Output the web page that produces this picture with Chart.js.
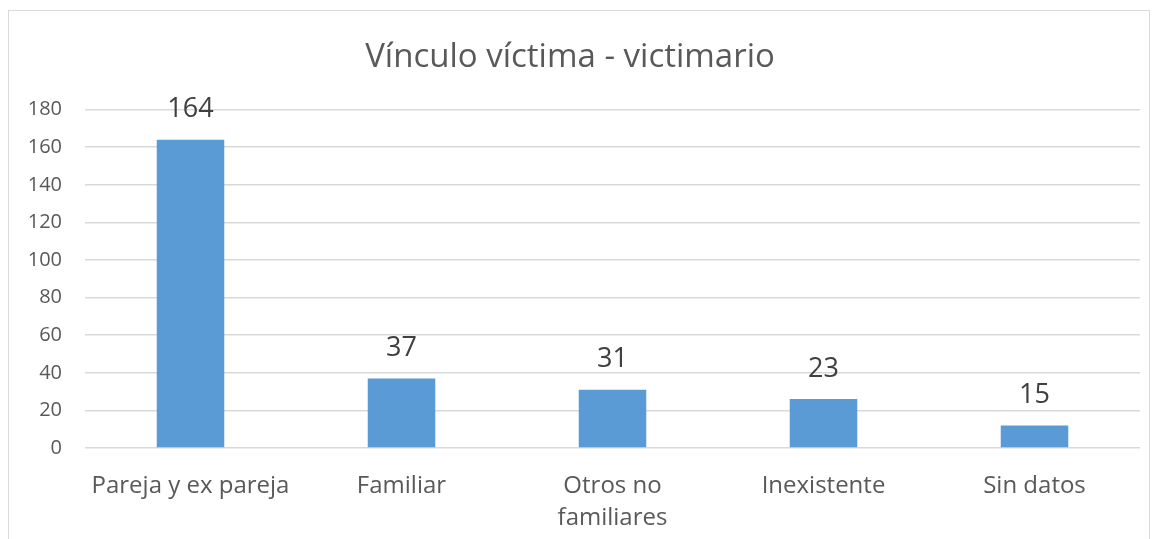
<!DOCTYPE html>
<html>
<head>
<meta charset="utf-8">
<script src="https://cdn.jsdelivr.net/npm/chart.js@4"></script>
<style>
  html, body { margin: 0; padding: 0; background: #fff; }
  #wrap { position: relative; width: 1156px; height: 539px; }
  #frame { position: absolute; left: 8px; top: 10px; width: 1140px; height: 540px; border: 1px solid #d9d9d9; pointer-events: none; }
</style>
</head>
<body>
<div id="wrap">
  <canvas id="chart" width="1156" height="539"></canvas>
  <div id="frame"></div>
</div>
<script>
// Vínculo víctima - victimario
const categorias = ['Pareja y ex pareja', 'Familiar', ['Otros no', 'familiares'], 'Inexistente', 'Sin datos'];
// altura de las barras tal como se dibujan en la imagen
const valores = [164, 37, 31, 26, 12];
// etiquetas de datos tal como aparecen escritas
const etiquetas = ['164', '37', '31', '23', '15'];
const ticksY = [0, 20, 40, 60, 80, 100, 120, 140, 160, 180];

const FONT = '"Open Sans", "Liberation Sans", sans-serif';

// etiquetas encima de cada barra
const etiquetasBarras = {
    id: 'etiquetasBarras',
    afterDatasetsDraw(chart) {
        const ctx = chart.ctx;
        const meta = chart.getDatasetMeta(0);
        ctx.save();
        ctx.font = '27px ' + FONT;
        ctx.fillStyle = '#404040';
        ctx.textAlign = 'center';
        ctx.textBaseline = 'middle';
        meta.data.forEach((bar, i) => {
            ctx.fillText(etiquetas[i], bar.x, bar.y - 30);
        });
        ctx.restore();
    }
};

new Chart(document.getElementById('chart'), {
    type: 'bar',
    data: {
        labels: categorias,
        datasets: [{
            data: valores,
            backgroundColor: '#5b9bd5',
            borderWidth: 0,
            barPercentage: 0.32,
            categoryPercentage: 1
        }]
    },
    options: {
        responsive: false,
        animation: false,
        layout: { padding: { top: 38, right: 16, bottom: 5, left: 0 } },
        plugins: {
            legend: { display: false },
            tooltip: { enabled: false },
            title: {
                display: true,
                text: 'Vínculo víctima - victimario',
                color: '#595959',
                font: { family: FONT, size: 33, weight: 'normal', lineHeight: 1.2 },
                padding: { top: 0, bottom: 32 }
            }
        },
        scales: {
            x: {
                afterFit(scale) { scale.height = 86; },
                grid: { display: false, drawTicks: false },
                border: { display: false },
                ticks: {
                    color: '#595959',
                    font: { family: FONT, size: 24, lineHeight: 1.33 },
                    padding: 22,
                    maxRotation: 0,
                    autoSkip: false
                }
            },
            y: {
                min: 0,
                max: 180,
                afterBuildTicks(scale) {
                    scale.ticks = ticksY.map(v => ({ value: v }));
                },
                afterFit(scale) { scale.width = 85; },
                grid: { color: '#d9d9d9', lineWidth: 1.5, drawTicks: false },
                border: { display: false },
                ticks: {
                    color: '#595959',
                    font: { family: FONT, size: 20 },
                    padding: 23
                }
            }
        }
    },
    plugins: [etiquetasBarras]
});
</script>
</body>
</html>
